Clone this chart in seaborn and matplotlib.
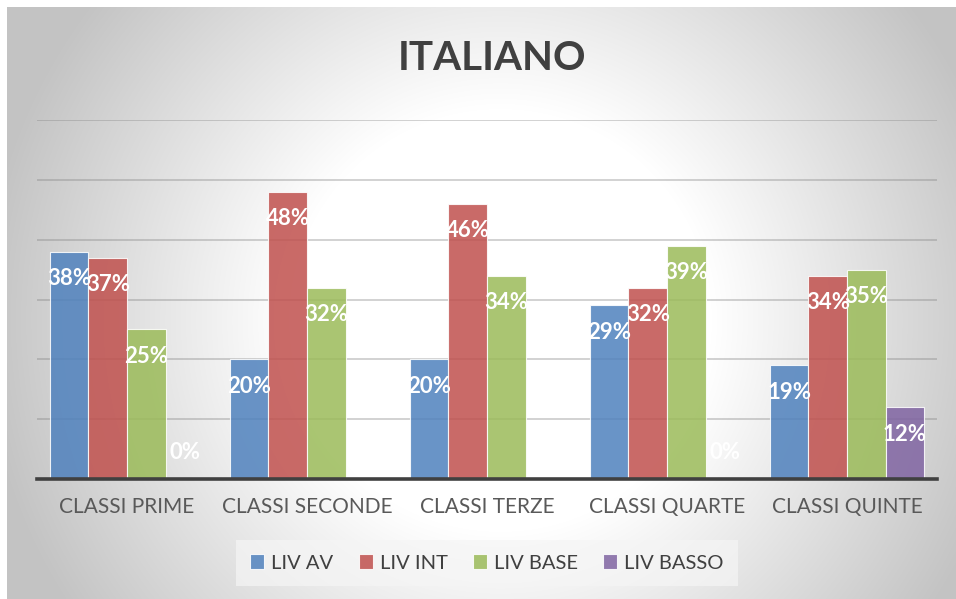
import numpy as np
import pandas as pd
import matplotlib
matplotlib.use('Agg')
import matplotlib.pyplot as plt
import seaborn as sns

# data
classi = ['CLASSI PRIME', 'CLASSI SECONDE', 'CLASSI TERZE', 'CLASSI QUARTE', 'CLASSI QUINTE']
livelli = ['LIV AV', 'LIV INT', 'LIV BASE', 'LIV BASSO']
liv_av = [0.38, 0.20, 0.20, 0.29, 0.19]
liv_int = [0.37, 0.48, 0.46, 0.32, 0.34]
liv_base = [0.25, 0.32, 0.34, 0.39, 0.35]
liv_basso = [0.0, np.nan, np.nan, 0.0, 0.12]
colori = ['#4F81BD', '#C0504D', '#9BBB59', '#8064A2']

rows = []
for liv, vals in zip(livelli, [liv_av, liv_int, liv_base, liv_basso]):
    for c, v in zip(classi, vals):
        rows.append({'classe': c, 'livello': liv, 'valore': v})
df = pd.DataFrame(rows).dropna()

sns.set_style('white')
plt.rcParams['font.family'] = ['Lato', 'DejaVu Sans']

W, H = 956, 599
fig = plt.figure(figsize=(W / 100, H / 100), dpi=100)
fig.patch.set_facecolor('white')

# radial grey background panel (pixel image, white margin top/left)
yy, xx = np.mgrid[7:H, 7:W]
d = np.hypot(xx - 500, yy - 320)
grad = np.clip(296 - 0.194 * d, 195, 255) / 255.0
fig.figimage(np.dstack([grad, grad, grad]), xo=7, yo=0, origin='upper', zorder=0)

# main chart
ax = fig.add_axes([37 / W, 1 - 479 / H, (937 - 37) / W, (479 - 120) / H], zorder=1)
ax.patch.set_alpha(0)
sns.barplot(data=df, x='classe', y='valore', hue='livello', order=classi, hue_order=livelli,
            palette=colori, saturation=1, alpha=0.85, edgecolor='white', linewidth=0.8,
            width=0.856, errorbar=None, ax=ax)

ax.set_ylim(0, 0.6)
ax.set_xlim(-0.5, len(classi) - 0.5)
ax.set_yticks(np.arange(0.1, 0.61, 0.1))
ax.set_yticklabels([])
ax.yaxis.grid(True, color='#808080', alpha=0.45, linewidth=1.1)
ax.set_axisbelow(True)
for s in ['top', 'right', 'left']:
    ax.spines[s].set_visible(False)
ax.spines['bottom'].set_color('#404040')
ax.spines['bottom'].set_linewidth(2.6)
ax.tick_params(axis='x', length=0, pad=13, labelsize=15, labelcolor='#595959')
ax.tick_params(axis='y', length=0)
ax.set_xlabel('')
ax.set_ylabel('')

# data labels
for cont in ax.containers:
    for bar in cont:
        h = bar.get_height()
        if np.isnan(h):
            continue
        x = bar.get_x() + bar.get_width() / 2
        off = -19.5 if h > 0 else 19
        ax.annotate(f'{h:.0%}', (x, h), xytext=(0, off), textcoords='offset points',
                    ha='center', va='center', color='white', fontsize=16, fontweight='bold')

fig.text(492 / W, 1 - 58 / H, 'ITALIANO', ha='center', va='center',
         fontsize=29, fontweight='bold', color='#404040')

handles, labels = ax.get_legend_handles_labels()
ax.legend(handles, labels, loc='center', bbox_to_anchor=(487 / W, 1 - 563 / H),
          bbox_transform=fig.transFigure, ncol=4, frameon=True, fontsize=14.5,
          handlelength=0.7, handleheight=0.7, handletextpad=0.35, columnspacing=1.25,
          facecolor='#f5f5f5', edgecolor='none', framealpha=0.7, labelcolor='#404040',
          fancybox=False, borderpad=0.7)

fig.savefig('out.png', dpi=100)
